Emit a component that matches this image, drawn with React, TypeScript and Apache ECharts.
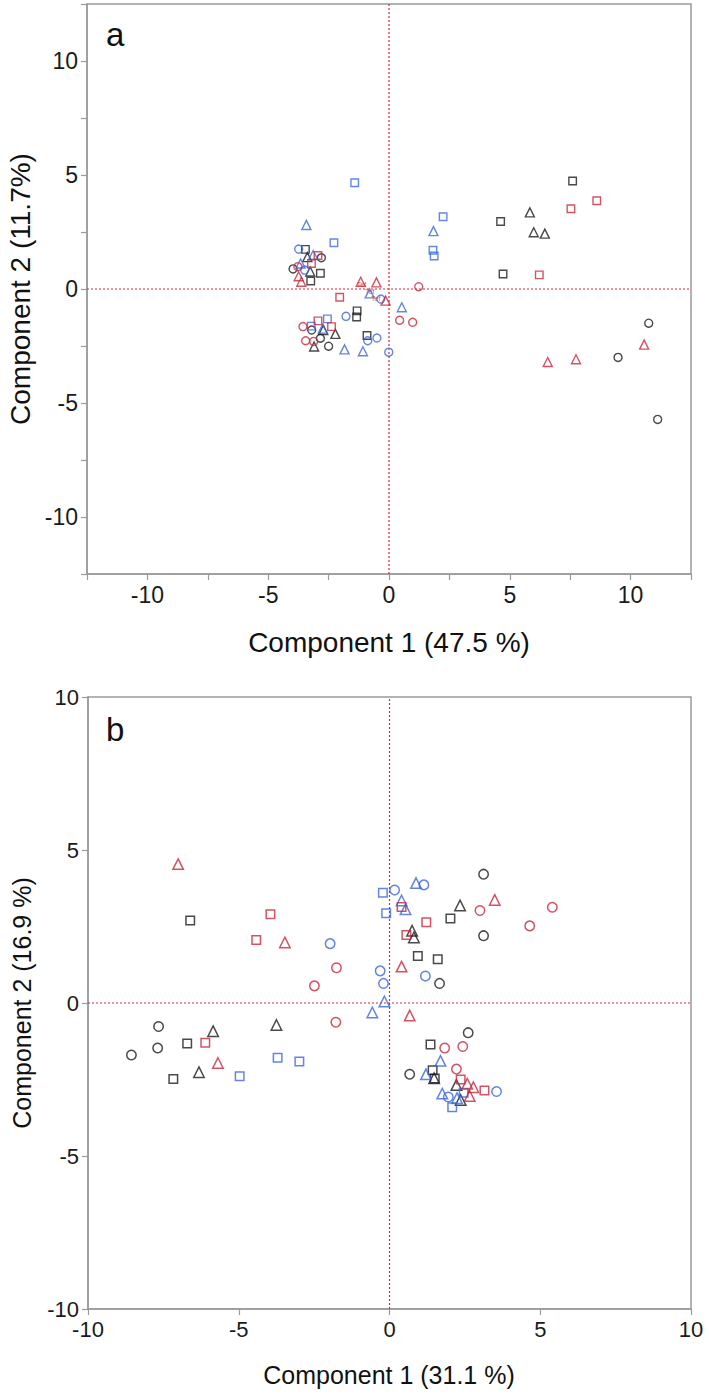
import React, { useEffect, useRef } from "react";
import * as echarts from "echarts";

// ---------- Panel a data (Component 1 vs Component 2) ----------
const aBlackCircle = [[-3.97, 0.88], [-2.8, 1.37], [-3.2, -1.8], [-2.84, -2.16], [-2.5, -2.51], [10.75, -1.5], [9.48, -3.0], [11.12, -5.72]];
const aBlackSquare = [[-3.46, 1.74], [-2.84, 0.69], [-3.24, 0.35], [-1.32, -0.96], [-1.34, -1.23], [-0.91, -2.04], [7.6, 4.74], [4.62, 2.96], [4.72, 0.66]];
const aBlackTriangle = [[-3.38, 1.4], [-3.26, 0.77], [-2.72, -1.8], [-2.22, -1.97], [-3.1, -2.52], [5.83, 3.36], [5.99, 2.49], [6.45, 2.43]];
const aRedCircle = [[-3.77, 0.98], [1.23, 0.1], [0.44, -1.37], [0.98, -1.46], [-3.56, -1.65], [-3.45, -2.27], [-3.12, -2.3]];
const aRedSquare = [[-2.94, 1.47], [-3.21, 1.12], [-2.04, -0.36], [-2.94, -1.4], [-2.38, -1.65], [8.6, 3.87], [7.53, 3.52], [6.22, 0.62]];
const aRedTriangle = [[-3.74, 0.56], [-3.63, 0.32], [-1.17, 0.32], [-0.52, 0.29], [-0.14, -0.51], [10.56, -2.44], [7.74, -3.08], [6.57, -3.2]];
const aBlueCircle = [[-3.74, 1.75], [-3.49, 0.83], [-0.34, -0.44], [-1.78, -1.2], [-0.5, -2.15], [-0.88, -2.27], [-0.01, -2.77]];
const aBlueSquare = [[-1.42, 4.66], [-2.28, 2.03], [2.24, 3.17], [1.82, 1.7], [1.87, 1.45], [-2.55, -1.31], [-3.22, -1.63]];
const aBlueTriangle = [[-3.42, 2.81], [-3.14, 1.49], [-3.66, 1.12], [1.84, 2.54], [-0.8, -0.19], [0.53, -0.8], [-2.74, -1.74], [-1.84, -2.65], [-1.08, -2.73]];
const aTefLabels = [[-1.14, 0.2, "Tef"], [-0.8, -0.1, "Tef"], [-0.55, -0.42, "Tef"]];

// ---------- Panel b data ----------
const bBlackCircle = [[-8.56, -1.7], [-7.69, -1.47], [-7.66, -0.77], [1.66, 0.64], [3.12, 4.21], [3.12, 2.2], [2.61, -0.97], [0.67, -2.33]];
const bBlackSquare = [[-6.61, 2.7], [-6.71, -1.32], [-7.17, -2.48], [0.94, 1.54], [1.6, 1.43], [2.02, 2.76], [1.36, -1.36], [1.43, -2.2], [1.5, -2.47]];
const bBlackTriangle = [[-5.85, -0.92], [-6.32, -2.26], [-3.75, -0.72], [0.75, 2.36], [0.81, 2.14], [2.34, 3.19], [1.48, -2.46], [2.22, -2.68], [2.36, -3.17]];
const bRedCircle = [[-1.76, 1.15], [-2.49, 0.56], [-1.78, -0.63], [3.0, 3.02], [5.4, 3.13], [4.65, 2.52], [1.83, -1.47], [2.43, -1.42], [2.22, -2.16]];
const bRedSquare = [[-3.95, 2.9], [-4.42, 2.06], [-6.11, -1.3], [0.4, 3.14], [0.56, 2.22], [1.22, 2.64], [2.36, -2.5], [3.15, -2.86]];
const bRedTriangle = [[-7.01, 4.54], [-3.47, 1.98], [-5.69, -1.96], [0.4, 1.19], [0.67, -0.41], [3.49, 3.37], [2.58, -2.64], [2.78, -2.75], [2.66, -3.04]];
const bBlueCircle = [[-1.97, 1.94], [-0.31, 1.05], [-0.2, 0.64], [1.19, 0.88], [0.17, 3.69], [1.14, 3.86], [3.55, -2.89], [1.95, -3.07]];
const bBlueSquare = [[-4.97, -2.39], [-3.71, -1.79], [-2.99, -1.91], [-0.22, 3.6], [-0.11, 2.93], [2.08, -3.41], [2.46, -2.93]];
const bBlueTriangle = [[-0.57, -0.31], [-0.17, 0.05], [0.88, 3.92], [0.4, 3.35], [0.53, 3.06], [1.69, -1.89], [1.21, -2.33], [1.75, -2.96], [2.24, -3.11]];

// ---------- Axis settings ----------
const aRange = [-12.5, 12.5];
const aInterval = 2.5;
const bRange = [-10, 10];
const bInterval = 5;

const aTitleX = "Component 1 (47.5 %)";
const aTitleY = "Component 2 (11.7%)";
const bTitleX = "Component 1 (31.1 %)";
const bTitleY = "Component 2 (16.9 %)";

const BLACK = "#1c1c1c";
const RED = "#c8283f";
const BLUE = "#3a68dc";
const ZERO_RED = "#d8283a";
const AXIS = "#9a9a9a";
const FONT = "'Liberation Sans', Arial, Helvetica, sans-serif";

function axisCommon(gridIndex: number, range: number[], interval: number, fontSize: number) {
  return {
    gridIndex,
    type: "value",
    min: range[0],
    max: range[1],
    interval,
    axisLine: { show: true, onZero: false, lineStyle: { color: AXIS, width: 1.5 } },
    axisTick: { show: true, length: 6, lineStyle: { color: AXIS, width: 1.2 } },
    axisLabel: {
      fontSize,
      color: "#1a1a1a",
      fontFamily: FONT,
      margin: 9,
      formatter: (v: number) => (Math.abs(v % 5) < 1e-9 && Math.abs(v) <= 10 ? String(v) : ""),
    },
    splitLine: { show: false },
  };
}

function makeSeries(data: any[], symbol: string, color: string, idx: number, size: number, bw: number) {
  return {
    type: "scatter",
    xAxisIndex: idx,
    yAxisIndex: idx,
    data,
    symbol,
    symbolSize: size,
    itemStyle: { color: "rgba(255,255,255,0)", borderColor: color, borderWidth: bw },
    emphasis: { disabled: true },
    z: 3,
  };
}

function zeroLine(idx: number, pts: number[][]) {
  return {
    type: "line",
    xAxisIndex: idx,
    yAxisIndex: idx,
    data: pts,
    symbol: "none",
    silent: true,
    lineStyle: { color: ZERO_RED, width: 1.2, type: [2, 2] },
    emphasis: { disabled: true },
    z: 1,
  };
}

export default function App() {
  const ref = useRef<HTMLDivElement>(null);
  useEffect(() => {
    if (!ref.current) return;
    const chart = echarts.init(ref.current, undefined, { renderer: "svg" });

    const sA = { c: 8, r: 7.5, t: 9, bw: 1.4 };
    const sB = { c: 9.5, r: 8.5, t: 10.5, bw: 1.5 };

    const series: any[] = [
      zeroLine(0, [[0, aRange[0]], [0, aRange[1]]]),
      zeroLine(0, [[aRange[0], 0], [aRange[1], 0]]),
      zeroLine(1, [[0, bRange[0]], [0, bRange[1]]]),
      zeroLine(1, [[bRange[0], 0], [bRange[1], 0]]),
      makeSeries(aBlackCircle, "circle", BLACK, 0, sA.c, sA.bw),
      makeSeries(aBlackSquare, "rect", BLACK, 0, sA.r, sA.bw),
      makeSeries(aBlackTriangle, "triangle", BLACK, 0, sA.t, sA.bw),
      makeSeries(aBlueCircle, "circle", BLUE, 0, sA.c, sA.bw),
      makeSeries(aBlueSquare, "rect", BLUE, 0, sA.r, sA.bw),
      makeSeries(aBlueTriangle, "triangle", BLUE, 0, sA.t, sA.bw),
      makeSeries(aRedCircle, "circle", RED, 0, sA.c, sA.bw),
      makeSeries(aRedSquare, "rect", RED, 0, sA.r, sA.bw),
      makeSeries(aRedTriangle, "triangle", RED, 0, sA.t, sA.bw),
      {
        type: "scatter",
        xAxisIndex: 0,
        yAxisIndex: 0,
        data: aTefLabels,
        symbolSize: 1,
        itemStyle: { color: "rgba(0,0,0,0)" },
        label: {
          show: true,
          position: "inside",
          formatter: (p: any) => p.value[2],
          fontSize: 7,
          color: RED,
          fontFamily: FONT,
        },
        emphasis: { disabled: true },
        z: 4,
      },
      makeSeries(bBlackCircle, "circle", BLACK, 1, sB.c, sB.bw),
      makeSeries(bBlackSquare, "rect", BLACK, 1, sB.r, sB.bw),
      makeSeries(bBlackTriangle, "triangle", BLACK, 1, sB.t, sB.bw),
      makeSeries(bBlueCircle, "circle", BLUE, 1, sB.c, sB.bw),
      makeSeries(bBlueSquare, "rect", BLUE, 1, sB.r, sB.bw),
      makeSeries(bBlueTriangle, "triangle", BLUE, 1, sB.t, sB.bw),
      makeSeries(bRedCircle, "circle", RED, 1, sB.c, sB.bw),
      makeSeries(bRedSquare, "rect", RED, 1, sB.r, sB.bw),
      makeSeries(bRedTriangle, "triangle", RED, 1, sB.t, sB.bw),
    ];

    const option: any = {
      animation: false,
      backgroundColor: "#ffffff",
      grid: [
        { left: 87, top: 4, width: 604, height: 570, show: true, borderColor: AXIS, borderWidth: 1.5, backgroundColor: "transparent" },
        { left: 88, top: 697, width: 603, height: 612, show: true, borderColor: AXIS, borderWidth: 1.5, backgroundColor: "transparent" },
      ],
      xAxis: [axisCommon(0, aRange, aInterval, 23), axisCommon(1, bRange, bInterval, 22)],
      yAxis: [axisCommon(0, aRange, aInterval, 23), axisCommon(1, bRange, bInterval, 22)],
      series,
      graphic: [
        { type: "text", x: 106, y: 34, style: { text: "a", fontSize: 33, fontFamily: FONT, fill: "#111", textVerticalAlign: "middle" } },
        { type: "text", x: 106, y: 729, style: { text: "b", fontSize: 33, fontFamily: FONT, fill: "#111", textVerticalAlign: "middle" } },
        { type: "text", x: 389, y: 642, style: { text: aTitleX, fontSize: 28, fontFamily: FONT, fill: "#111", textAlign: "center", textVerticalAlign: "middle" } },
        { type: "text", x: 20, y: 289, rotation: Math.PI / 2, style: { text: aTitleY, fontSize: 28, fontFamily: FONT, fill: "#111", textAlign: "center", textVerticalAlign: "middle" } },
        { type: "text", x: 389, y: 1375, style: { text: bTitleX, fontSize: 25, fontFamily: FONT, fill: "#111", textAlign: "center", textVerticalAlign: "middle" } },
        { type: "text", x: 22, y: 1003, rotation: Math.PI / 2, style: { text: bTitleY, fontSize: 25, fontFamily: FONT, fill: "#111", textAlign: "center", textVerticalAlign: "middle" } },
      ],
    };
    chart.setOption(option);
    return () => chart.dispose();
  }, []);

  return (
    <div
      ref={ref}
      style={{ position: "absolute", left: 0, top: 0, width: 709, height: 1395, background: "#fff" }}
    />
  );
}
